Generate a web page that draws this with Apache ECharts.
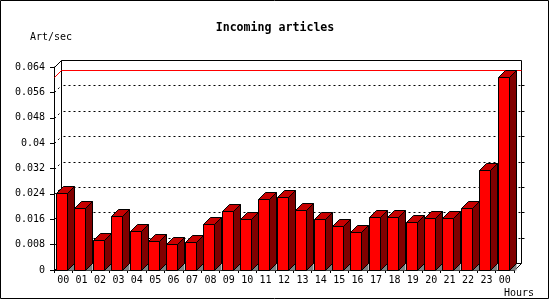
<!DOCTYPE html>
<html>
<head>
<meta charset="utf-8">
<script src="https://cdn.jsdelivr.net/npm/echarts@6/dist/echarts.min.js"></script>
<style>
html,body{margin:0;padding:0;background:#fff;}
#c{width:550px;height:300px;}
</style>
</head>
<body>
<div id="c"></div>
<script>
const hours = ['00','01','02','03','04','05','06','07','08','09','10','11','12','13','14','15','16','17','18','19','20','21','22','23','00'];
const artPerSec = [0.0242,0.0197,0.0095,0.0169,0.0123,0.0091,0.0081,0.0087,0.0144,0.0185,0.0160,0.0223,0.0229,0.0188,0.0160,0.0138,0.0119,0.0166,0.0166,0.0150,0.0163,0.0163,0.0197,0.0314,0.0607];
const yTicks = [0,0.008,0.016,0.024,0.032,0.04,0.048,0.056,0.064];
const maxVal = Math.max.apply(null, artPerSec);

const D = 7;
const FONT = 'DejaVu Sans Mono';
const chart = echarts.init(document.getElementById('c'), null, {renderer:'canvas'});

function frameItem(params, api){
  const cs = params.coordSys;
  const x = Math.round(cs.x) + 0.5, y = Math.round(cs.y) + 0.5;
  const r = Math.round(cs.x + cs.width) + 0.5, b = Math.round(cs.y + cs.height) + 0.5;
  const ch = [];
  ch.push({type:'rect', shape:{x:x+D, y:y-D, width:r-x, height:b-y}, style:{fill:'#fff', stroke:'#000', lineWidth:1}});
  for (let i=1;i<yTicks.length-1;i++){
    const yy = Math.round(api.coord([0, yTicks[i]])[1]) + 0.5;
    ch.push({type:'line', shape:{x1:x+D+2, y1:yy-D, x2:r+D, y2:yy-D}, style:{stroke:'#000', lineWidth:1, lineDash:[2,3]}});
    ch.push({type:'line', shape:{x1:x, y1:yy, x2:x+D, y2:yy-D}, style:{stroke:'#000', lineWidth:1, lineDash:[2,3]}});
    ch.push({type:'line', shape:{x1:r+D, y1:yy-D, x2:r+D+3, y2:yy-D}, style:{stroke:'#000', lineWidth:1}});
  }
  ch.push({type:'line', shape:{x1:x, y1:y, x2:x+D, y2:y-D}, style:{stroke:'#000', lineWidth:1}});
  ch.push({type:'line', shape:{x1:x, y1:b, x2:x+D, y2:b-D}, style:{stroke:'#000', lineWidth:1}});
  ch.push({type:'line', shape:{x1:r, y1:b, x2:r+D, y2:b-D}, style:{stroke:'#000', lineWidth:1}});
  const ym = Math.round(api.coord([0, maxVal])[1]) + 0.5;
  ch.push({type:'line', shape:{x1:x+D, y1:ym-D, x2:r+D, y2:ym-D}, style:{stroke:'#ff0000', lineWidth:1}});
  ch.push({type:'line', shape:{x1:x, y1:ym, x2:x+D, y2:ym-D}, style:{stroke:'#ff0000', lineWidth:1}});
  return {type:'group', children:ch};
}

function barItem(params, api){
  const idx = api.value(0);
  const c = api.coord([idx, api.value(1)]);
  const base = api.coord([idx, 0]);
  const band = api.size([1, 0])[0];
  const left = Math.round(c[0] - band/2 + 2) + 0.5;
  const w = 11;
  const top = Math.round(c[1]) + 0.5;
  const bot = Math.round(base[1]) + 0.5;
  const d = D;
  const st = {stroke:'#000', lineWidth:1};
  return {type:'group', children:[
    {type:'polygon', shape:{points:[[left+w,bot],[left+w+d,bot-d],[left+w+d,bot]]}, style:{fill:'#808080'}},
    {type:'polygon', shape:{points:[[left+w,top],[left+w+d,top-d],[left+w+d,bot-d],[left+w,bot]]}, style:Object.assign({fill:'#800000'}, st)},
    {type:'polygon', shape:{points:[[left,top],[left+d,top-d],[left+w+d,top-d],[left+w,top]]}, style:Object.assign({fill:'#c80000'}, st)},
    {type:'rect', shape:{x:left, y:top, width:w, height:bot-top}, style:Object.assign({fill:'#ff0000'}, st)}
  ]};
}

chart.setOption({
  animation:false,
  backgroundColor:'#fff',
  title:{text:'Incoming articles', left:'center', top:17, textStyle:{fontFamily:FONT, fontSize:11.6, fontWeight:'bold', color:'#000'}},
  graphic:[
    {type:'rect', shape:{x:0.5,y:0.5,width:548,height:298}, style:{fill:'none', stroke:'#000', lineWidth:1}, z:100},
    {type:'text', left:30, top:32, style:{text:'Art/sec', font:'10px "DejaVu Sans Mono"', fill:'#000'}},
    {type:'text', left:504, top:288, style:{text:'Hours', font:'10px "DejaVu Sans Mono"', fill:'#000'}}
  ],
  grid:{left:54, right:36, top:67, bottom:30},
  xAxis:{type:'category', data:hours, boundaryGap:true,
    axisLine:{lineStyle:{color:'#000', width:1}},
    axisTick:{show:true, length:3, lineStyle:{color:'#000'}},
    axisLabel:{color:'#000', fontFamily:FONT, fontSize:10, margin:5, interval:0},
    splitLine:{show:false}},
  yAxis:{type:'value', min:0, max:0.064, interval:0.008,
    axisLine:{show:true, lineStyle:{color:'#000', width:1}},
    axisTick:{show:true, length:4, lineStyle:{color:'#000'}},
    axisLabel:{color:'#000', fontFamily:FONT, fontSize:10, margin:9},
    splitLine:{show:false}},
  series:[
    {type:'custom', renderItem:frameItem, data:[[0,0]], silent:true, z:1, clip:false},
    {type:'custom', renderItem:barItem, data:artPerSec.map((v,i)=>[i,v]), silent:true, z:2, clip:false}
  ]
});
</script>
</body>
</html>
